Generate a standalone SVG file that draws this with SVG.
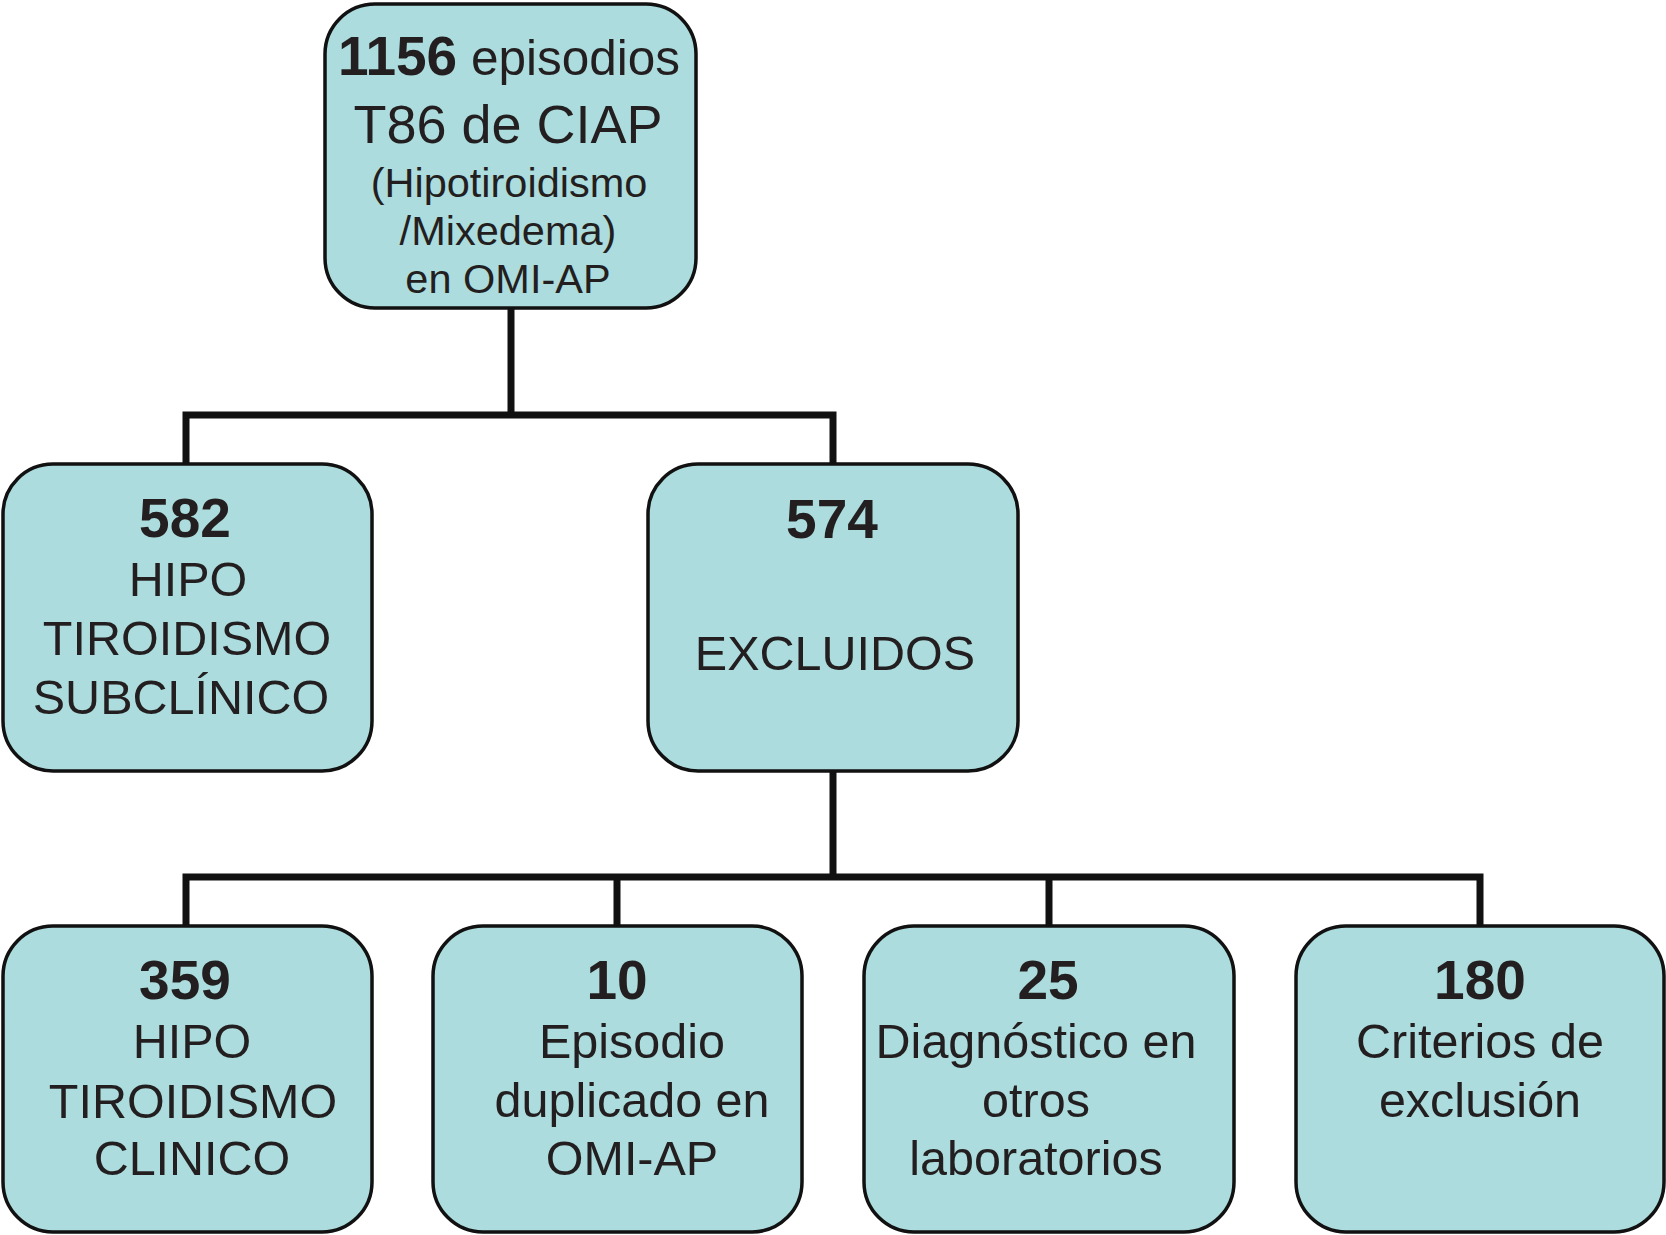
<svg xmlns="http://www.w3.org/2000/svg" width="1666" height="1235" viewBox="0 0 1666 1235">
<style>
.box{fill:#acdcdd;stroke:#111;stroke-width:3.5}
.conn{fill:none;stroke:#111;stroke-width:7;stroke-linecap:butt;stroke-linejoin:miter}
text{font-family:"Liberation Sans",Arial,Helvetica,sans-serif;fill:#231f20;text-anchor:middle}
.num{font-weight:bold;font-size:55px}
.t{font-size:48.5px}
.s{font-size:41.5px}
</style>
<rect width="1666" height="1235" fill="#ffffff"/>
<g id="connectors">
<path class="conn" d="M511 308 V415 M186 467 V415 H833 V467"/>
<path class="conn" d="M833 771 V877 M186 928 V877 H1480 V928 M617 877 V928 M1049 877 V928"/>
</g>
<g id="n1156">
<rect class="box" x="325" y="4" width="371" height="304" rx="50" ry="50"/>
<text x="509" y="75"><tspan class="num">1156</tspan><tspan style="font-size:49.5px"> episodios</tspan></text>
<text x="508" y="143" style="font-size:54px">T86 de CIAP</text>
<text x="509" y="197" class="s">(Hipotiroidismo</text>
<text x="508" y="245" class="s">/Mixedema)</text>
<text x="508" y="293" class="s">en OMI-AP</text>
</g>
<g id="n582">
<rect class="box" x="3" y="464" width="369" height="307" rx="50" ry="50"/>
<text x="185" y="537" class="num">582</text>
<text x="188" y="596" class="t">HIPO</text>
<text x="187" y="655" class="t">TIROIDISMO</text>
<text x="181" y="714" class="t">SUBCLÍNICO</text>
</g>
<g id="n574">
<rect class="box" x="648" y="464" width="370" height="307" rx="50" ry="50"/>
<text x="832" y="538" class="num">574</text>
<text x="835" y="670" class="t">EXCLUIDOS</text>
</g>
<g id="n359">
<rect class="box" x="3" y="926" width="369" height="306" rx="50" ry="50"/>
<text x="185" y="999" class="num">359</text>
<text x="192" y="1058" class="t">HIPO</text>
<text x="193" y="1118" class="t">TIROIDISMO</text>
<text x="192" y="1175" class="t">CLINICO</text>
</g>
<g id="n10">
<rect class="box" x="433" y="926" width="369" height="306" rx="50" ry="50"/>
<text x="617" y="999" class="num">10</text>
<text x="632" y="1058" class="t">Episodio</text>
<text x="632" y="1117" class="t">duplicado en</text>
<text x="632" y="1175" class="t">OMI-AP</text>
</g>
<g id="n25">
<rect class="box" x="864" y="926" width="370" height="306" rx="50" ry="50"/>
<text x="1048" y="999" class="num">25</text>
<text x="1036" y="1058" class="t">Diagnóstico en</text>
<text x="1036" y="1117" class="t">otros</text>
<text x="1036" y="1175" class="t">laboratorios</text>
</g>
<g id="n180">
<rect class="box" x="1296" y="926" width="368" height="306" rx="50" ry="50"/>
<text x="1480" y="999" class="num">180</text>
<text x="1480" y="1058" class="t">Criterios de</text>
<text x="1480" y="1117" class="t">exclusión</text>
</g>
</svg>
